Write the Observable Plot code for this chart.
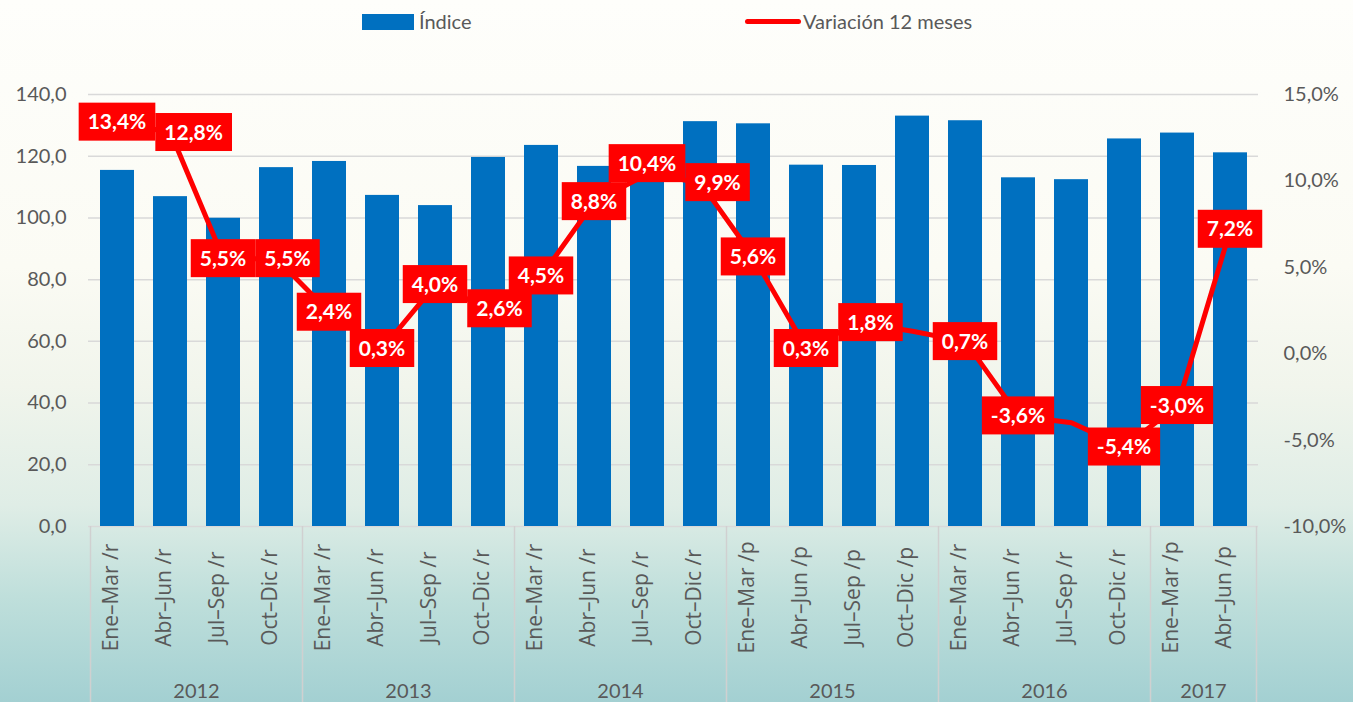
<!DOCTYPE html>
<html>
<head>
<meta charset="utf-8">
<script src="https://cdn.jsdelivr.net/npm/d3@7"></script>
<script src="https://cdn.jsdelivr.net/npm/@observablehq/plot@0.6"></script>
<style>
html, body { margin: 0; padding: 0; }
body {
  width: 1353px; height: 702px; overflow: hidden;
  background: linear-gradient(to bottom, #fefefb 0%, #fbfbf4 38%, #f1f5ec 55%, #dfede6 72%, #bfdfdb 85%, #a3d0d2 100%);
  font-family: Lato, "Open Sans", sans-serif;
}
#legend { position: relative; height: 45px; color: #595959; font-size: 20px; }
#legend .item { position: absolute; }
#chart svg { display: block; }
</style>
</head>
<body>
<div id="legend">
  <div class="item" style="left:362px;top:14px;width:52px;height:16px;background:#0070c0"></div>
  <div class="item" style="left:419px;top:9px;line-height:24px">Índice</div>
  <div class="item" style="left:745px;top:19px;width:56px;height:5px;border-radius:3px;background:#ff0000"></div>
  <div class="item" style="left:803px;top:9px;line-height:24px">Variación 12 meses</div>
</div>
<div id="chart"></div>
<script>
// ---- data ----
const years = ["2012", "2013", "2014", "2015", "2016", "2017"];
const quarterYear = ["2012","2012","2012","2012","2013","2013","2013","2013","2014","2014","2014","2014","2015","2015","2015","2015","2016","2016","2016","2016","2017","2017"];
const quarterLabels = [
  "Ene–Mar /r","Abr–Jun /r","Jul–Sep /r","Oct–Dic /r",
  "Ene–Mar /r","Abr–Jun /r","Jul–Sep /r","Oct–Dic /r",
  "Ene–Mar /r","Abr–Jun /r","Jul–Sep /r","Oct–Dic /r",
  "Ene–Mar /p","Abr–Jun /p","Jul–Sep /p","Oct–Dic /p",
  "Ene–Mar /r","Abr–Jun /r","Jul–Sep /r","Oct–Dic /r",
  "Ene–Mar /p","Abr–Jun /p"
];
const indice = [115.4, 106.9, 99.9, 116.3, 118.3, 107.3, 104.0, 119.6, 123.5, 116.7, 115.0, 131.2,
                130.5, 117.1, 117.0, 133.0, 131.5, 113.0, 112.4, 125.6, 127.5, 121.1];
const variacion = [13.4, 12.8, 5.5, 5.5, 2.4, 0.3, 4.0, 2.6, 4.5, 8.8, 10.4, 9.9,
                   5.6, 0.3, 1.8, 1.3, 0.7, -3.6, -4.0, -5.4, -3.0, 7.2];
const variacionLabels = ["13,4%","12,8%","5,5%","5,5%","2,4%","0,3%","4,0%","2,6%","4,5%","8,8%","10,4%","9,9%",
                         "5,6%","0,3%","1,8%",null,"0,7%","-3,6%",null,"-5,4%","-3,0%","7,2%"];
const indiceTicks = [0, 20, 40, 60, 80, 100, 120, 140];
const variacionTicks = [-10, -5, 0, 5, 10, 15];

// ---- helpers ----
const leftDomain = [0, 140];
const rightDomain = [-10, 15];
const toLeft = p => (p - rightDomain[0]) / (rightDomain[1] - rightDomain[0]) * (leftDomain[1] - leftDomain[0]);
const fromLeft = v => v / (leftDomain[1] - leftDomain[0]) * (rightDomain[1] - rightDomain[0]) + rightDomain[0];
const fmt1 = v => v.toFixed(1).replace(".", ",");
const fmtPct = p => (Math.round(p * 10) / 10).toFixed(1).replace(".", ",") + "%";

const keys = quarterLabels.map((q, i) => quarterYear[i] + " " + i + " " + q);
const data = keys.map((k, i) => ({k, q: quarterLabels[i], year: quarterYear[i], v: indice[i], p: variacion[i], lbl: variacionLabels[i]}));

const grey = "#595959";

function yearAxis(index, scales, values, dims) {
  const x = scales.x;
  const bw = x.bandwidth(), step = x.step();
  const yTop = dims.height - dims.marginBottom;
  const g = d3.create("svg:g");
  const bounds = [];
  years.forEach(yr => {
    const ks = keys.filter((k, i) => quarterYear[i] === yr);
    const left = x(ks[0]) + bw / 2 - step / 2;
    const right = x(ks[ks.length - 1]) + bw / 2 + step / 2;
    bounds.push(left, right);
    g.append("text")
      .attr("x", (left + right) / 2).attr("y", yTop + 165)
      .attr("dy", "0.35em").attr("text-anchor", "middle")
      .attr("font-family", "Lato, sans-serif").attr("font-size", 20)
      .attr("fill", grey).text(yr);
  });
  [...new Set(bounds.map(b => Math.round(b * 10) / 10))].forEach(b => {
    g.append("line").attr("x1", b).attr("x2", b).attr("y1", yTop).attr("y2", dims.height)
      .attr("stroke", "#d0d0d0").attr("stroke-width", 1.5);
  });
  return g.node();
}

const canvas = document.createElement("canvas");
const ctx2 = canvas.getContext("2d");
const labelFont = "bold 21px Lato";
ctx2.font = labelFont;

function labelBoxes(index, scales, values, dims) {
  const x = scales.x, y = scales.y;
  const bw = x.bandwidth();
  const g = d3.create("svg:g");
  const boxes = [];
  const tol = 8, padX = 9, h = 38;
  data.forEach(d => {
    if (!d.lbl) return;
    const cx = x(d.k) + bw / 2, cy = y(toLeft(d.p));
    const w = ctx2.measureText(d.lbl).width + 2 * padX;
    const b = {x: cx - w / 2, y: cy - h / 2, w, h, v: d.p, lbl: d.lbl};
    const prev = boxes[boxes.length - 1];
    if (prev) {
      const ox = Math.min(prev.x + prev.w, b.x + b.w) - Math.max(prev.x, b.x);
      const oy = Math.min(prev.y + prev.h, b.y + b.h) - Math.max(prev.y, b.y);
      if (ox > tol && oy > tol) {
        const right = prev.x + prev.w - b.x;
        const vert = b.v > prev.v ? (b.y + b.h - prev.y) : (prev.y + prev.h - b.y);
        if (right <= vert) b.x += right; else b.y += (b.v > prev.v ? -vert : vert);
      }
    }
    boxes.push(b);
  });
  boxes.forEach(b => {
    g.append("rect").attr("x", b.x).attr("y", b.y).attr("width", b.w).attr("height", b.h).attr("fill", "#ff0000");
    g.append("text").attr("x", b.x + b.w / 2).attr("y", b.y + b.h / 2).attr("dy", "0.36em")
      .attr("text-anchor", "middle").attr("font-family", "Lato, sans-serif").attr("font-weight", "bold")
      .attr("font-size", 21).attr("fill", "#ffffff").text(b.lbl);
  });
  return g.node();
}

const chart = Plot.plot({
  width: 1353,
  height: 657,
  marginTop: 49,
  marginBottom: 176,
  marginLeft: 88,
  marginRight: 95,
  style: {background: "transparent", fontFamily: "Lato, sans-serif", fontSize: "20px", color: grey, overflow: "visible"},
  x: {domain: keys, paddingInner: 0.36, paddingOuter: 0.18, axis: null},
  y: {domain: leftDomain, axis: null},
  marks: [
    Plot.ruleY(indiceTicks, {stroke: "#d9d9d9", strokeWidth: 1.5}),
    Plot.axisY({anchor: "left", ticks: indiceTicks, tickSize: 0, tickPadding: 22, tickFormat: fmt1, label: null, fontSize: 20}),
    Plot.axisY({anchor: "right", ticks: variacionTicks.map(toLeft), tickSize: 0, tickPadding: 25,
                tickFormat: v => fmtPct(fromLeft(v)), label: null, fontSize: 20}),
    Plot.barY(data, {x: "k", y: "v", fill: "#0070c0"}),
    Plot.line(data, {x: "k", y: d => toLeft(d.p), stroke: "#ff0000", strokeWidth: 5, strokeLinejoin: "round"}),
    Plot.text(data, {x: "k", text: "q", frameAnchor: "bottom", dy: 71, rotate: -90, textAnchor: "middle",
                     fontFamily: "Open Sans, sans-serif", fontSize: 21, fill: grey}),
    yearAxis,
    labelBoxes
  ]
});
document.getElementById("chart").append(chart);
</script>
</body>
</html>
